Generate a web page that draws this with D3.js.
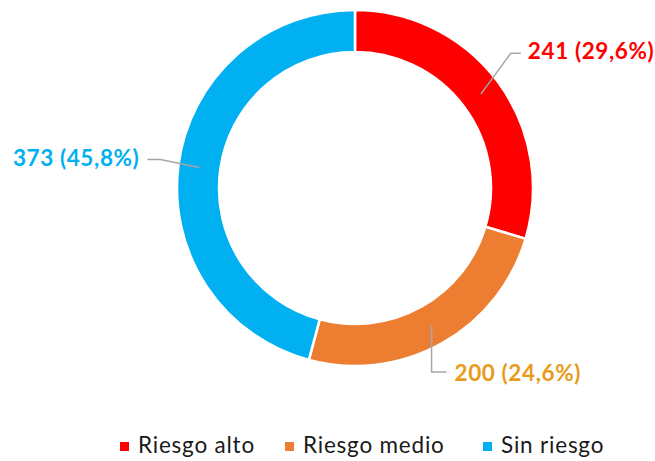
<!DOCTYPE html>
<html>
<head>
<meta charset="utf-8">
<script src="https://cdn.jsdelivr.net/npm/d3@7"></script>
<style>
  body { margin: 0; background: #fff; }
  svg text { font-family: Lato, "Open Sans", sans-serif; }
</style>
</head>
<body>
<div id="chart"></div>
<script>
// data
const categories = ["Riesgo alto", "Riesgo medio", "Sin riesgo"];
const values = [241, 200, 373];
const colors = ["#FF0000", "#ED7D31", "#00B0F0"];
const labelColors = ["#FF0000", "#E89B1A", "#00B0F0"];

const width = 655, height = 461;
const cx = 355, cy = 188;
const outerR = 178, innerR = 136;

const svg = d3.select("#chart").append("svg")
  .attr("width", width)
  .attr("height", height);

const g = svg.append("g")
  .attr("transform", "translate(" + cx + "," + cy + ")");

const pie = d3.pie().sort(null).value(d => d);
const arcs = pie(values);
const total = d3.sum(values);

const arc = d3.arc().innerRadius(innerR).outerRadius(outerR);

g.selectAll("path.slice")
  .data(arcs)
  .enter()
  .append("path")
  .attr("class", "slice")
  .attr("d", arc)
  .attr("fill", (d, i) => colors[i])
  .attr("stroke", "#fff")
  .attr("stroke-width", 2.5);

// label placement relative to the slice centroid
const fmt = v => (v / total * 100).toFixed(1).replace(".", ",");
const labelPos = [
  { elbow: [30, -41], end: [40, -41], text: [47, -35], anchor: "start" },
  { elbow: [0, 47], end: [15, 47], text: [23, 56], anchor: "start" },
  { elbow: [-39, -8], end: [-52, -8], text: [-60, -1], anchor: "end" }
];

arcs.forEach((d, i) => {
  const c = arc.centroid(d);
  const p = labelPos[i];
  g.append("polyline")
    .attr("points", [c, [c[0] + p.elbow[0], c[1] + p.elbow[1]], [c[0] + p.end[0], c[1] + p.end[1]]].map(q => q.join(",")).join(" "))
    .attr("fill", "none")
    .attr("stroke", "#A6A6A6")
    .attr("stroke-width", 1.5);
  g.append("text")
    .attr("x", c[0] + p.text[0])
    .attr("y", c[1] + p.text[1])
    .attr("text-anchor", p.anchor)
    .attr("fill", labelColors[i])
    .attr("font-weight", "bold")
    .attr("font-size", 22.5)
    .attr("letter-spacing", 0.6)
    .text(values[i] + " (" + fmt(values[i]) + "%)");
});

// legend
const legendX = [120, 285, 483];
const legend = svg.append("g").attr("class", "legend");
categories.forEach((name, i) => {
  legend.append("rect")
    .attr("x", legendX[i])
    .attr("y", 442)
    .attr("width", 9)
    .attr("height", 9)
    .attr("fill", colors[i]);
  legend.append("text")
    .attr("x", legendX[i] + 18)
    .attr("y", 453)
    .attr("font-size", 22.5)
    .attr("letter-spacing", 0.8)
    .attr("fill", "#1a1a1a")
    .text(name);
});
</script>
</body>
</html>
